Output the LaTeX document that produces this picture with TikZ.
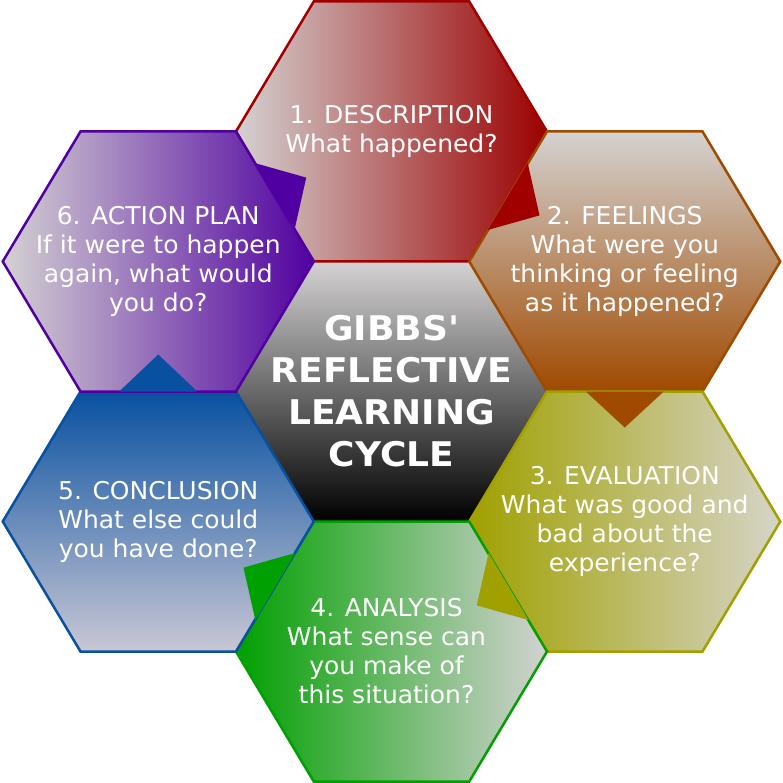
\documentclass[tikz,border=0pt]{standalone}
\usepackage{fontspec}
\setmainfont{DejaVu Sans}
\newfontfamily\cellfont{DejaVu Sans}[FakeStretch=1.02]
\newfontfamily\titlefont{DejaVu Sans Bold}[FakeStretch=1.06]
\definecolor{lgray}{RGB}{212,210,210}
\definecolor{cred}{RGB}{160,0,0}
\definecolor{cbrown}{RGB}{160,74,0}
\definecolor{colive}{RGB}{160,160,0}
\definecolor{cgreen}{RGB}{0,160,0}
\definecolor{cblue}{RGB}{8,80,160}
\definecolor{cpurple}{RGB}{80,0,160}
\newcommand\hexcell[2]{%
  \path[#2, shift={(#1)}] (-155.5,0) -- (-77.75,130) -- (77.75,130) -- (155.5,0)
     -- (77.75,-130) -- (-77.75,-130) -- cycle;}
\tikzset{
  cellborder/.style={line width=2.5pt, line join=miter},
  celltext/.style={text=white, align=center, font=\cellfont\fontsize{24.5}{29}\selectfont},
  titletext/.style={text=white, align=center, font=\titlefont\fontsize{34}{42}\selectfont},
}
\begin{document}
\begin{tikzpicture}[x=1pt,y=1pt]
\useasboundingbox (0,0) rectangle (783,-783);
\coordinate (C) at (391.5,-391.5);
\coordinate (D) at (391.5,-131.5);
\coordinate (F) at (624.75,-261.5);
\coordinate (E) at (624.75,-521.5);
\coordinate (A) at (391.5,-651.5);
\coordinate (K) at (158.25,-521.5);
\coordinate (P) at (158.25,-261.5);
% hexagons
\hexcell{C}{top color=lgray, bottom color=black}
\hexcell{D}{cellborder, draw=cred, left color=lgray, right color=cred!97!black}
\hexcell{F}{cellborder, draw=cbrown, top color=lgray, bottom color=cbrown}
\hexcell{E}{cellborder, draw=colive, left color=colive, right color=lgray!95!yellow}
\hexcell{A}{cellborder, draw=cgreen, left color=cgreen, right color=lgray}
\hexcell{K}{cellborder, draw=cblue, top color=cblue, bottom color=lgray!95!blue}
\hexcell{P}{cellborder, draw=cpurple, left color=lgray, right color=cpurple}
% pointers
\fill[cred, shift={(D)}] (136.2,-31.5) -- (96.3,-98.5) -- (148.0,-83.9) -- cycle;
\fill[cbrown, shift={(F)}] (-39,-130) -- (39,-130) -- (0,-166) -- cycle;
\fill[colive, shift={(E)}] (-136.2,-31.5) -- (-96.3,-98.5) -- (-148.0,-83.9) -- cycle;
\fill[cgreen, shift={(A)}] (-136.2,31.5) -- (-96.3,98.5) -- (-148.0,83.9) -- cycle;
\fill[cblue, shift={(K)}] (-39,130) -- (39,130) -- (0,167) -- cycle;
\fill[cpurple, shift={(P)}] (136.2,31.5) -- (96.3,98.5) -- (148.0,83.9) -- cycle;
% texts
\node[titletext] (tC) at (C) {GIBBS\textquotesingle\\REFLECTIVE\\LEARNING\\CYCLE};
\node[celltext] (tD) at (D) {1. DESCRIPTION\\What happened?};
\node[celltext] (tF) at (F) {2. FEELINGS\\What were you\\thinking or feeling\\as it happened?};
\node[celltext] (tE) at (E) {3. EVALUATION\\What was good and\\bad about the\\experience?};
\node[celltext, xshift=-5pt] (tA) at (A) {4. ANALYSIS\\What sense can\\you make of\\this situation?};
\node[celltext] (tK) at (K) {5. CONCLUSION\\What else could\\you have done?};
\node[celltext] (tP) at (P) {6. ACTION PLAN\\If it were to happen\\again, what would\\you do?};
\end{tikzpicture}
\end{document}
